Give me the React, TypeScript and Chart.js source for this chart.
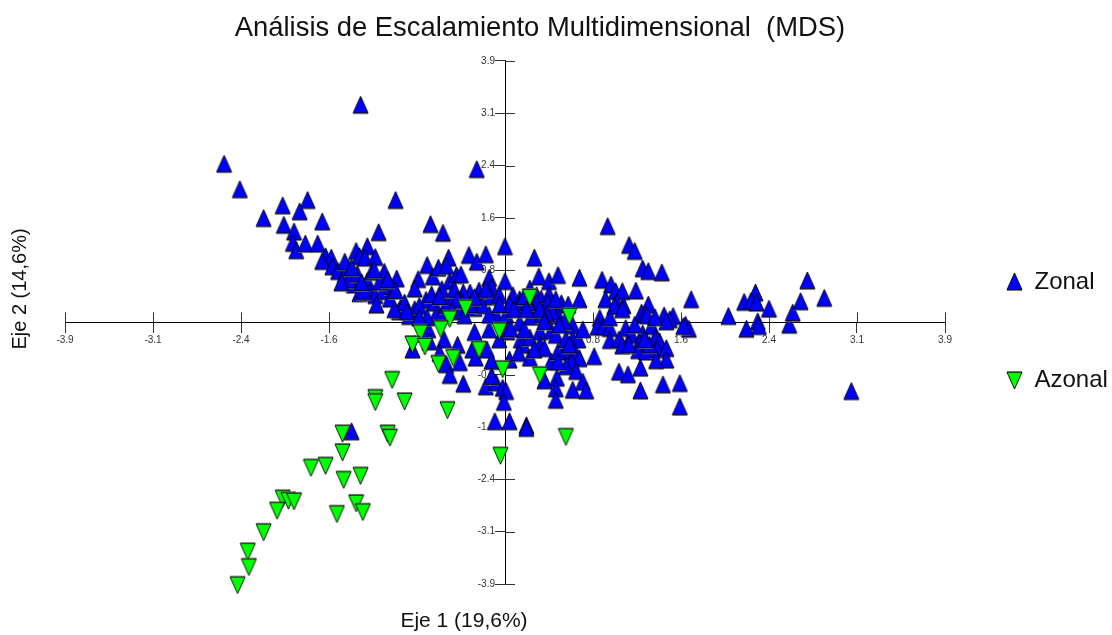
import React, { useEffect, useRef } from "react";
import { Chart, registerables } from "chart.js";

Chart.register(...registerables);

const chartTitle = "Análisis de Escalamiento Multidimensional  (MDS)";
const xAxisTitle = "Eje 1 (19,6%)";
const yAxisTitle = "Eje 2 (14,6%)";
const seriesNames = ["Zonal", "Azonal"];
const tickValues = [-3.9, -3.12, -2.34, -1.56, -0.78, 0.78, 1.56, 2.34, 3.12, 3.9];
const tickLabels = ["-3.9", "-3.1", "-2.4", "-1.6", "-0.8", "0.8", "1.6", "2.4", "3.1", "3.9"];

const zonalX = [
  -1.28, -2.49, -2.35, -1.97, -1.75, -1.82, -2.14, -1.62, -1.96, -1.87, -1.88, -1.85, -1.77, -1.66, -0.97, -0.25, -0.66, -0.55, -1.12,
  -1.22, -1.32, -1.59, -1.54, -1.62, -1.29, -1.24, -1.15, -1.53, -1.48, -1.42, -1.39, -1.34, -1.22, -1.29, -1.20, -1.15, -1.08, -1.14, -1.07,
  -0.96, -1.01, -1.02, -0.92, -0.94, -0.89, -0.80, -0.85, -0.77, -0.80, -0.69, -0.64, -0.59, -0.50, -0.52, -0.49, -0.43, -0.39, -0.32, -0.25,
  -0.17, 0.00, -0.14, -0.12, -0.13, 0.00, -0.23, -0.31, -0.37, -0.47, -0.70, -0.63, -0.76, -0.61, -0.55, -0.42, -0.27, -0.24, -0.20, -0.08,
  0.01, -0.14, 0.02, -0.27, -0.68, -0.54, -0.67, -0.42, -0.29, -0.16, -0.82, -0.58, -0.52, -0.40, -0.26, -0.12, -0.49, -0.37, -0.17, -0.08,
  -0.02, 0.01, -0.01, 0.04, -0.12, -0.09, 0.04, 0.19, 0.19, -1.36, 0.26, 0.30, 0.39, 0.47, 0.66, 0.86, 0.94, 0.98, 1.04, 1.16,
  0.91, 1.10, 1.15, 1.22, 1.27, 1.39, 1.65, 0.66, 0.22, 0.07, 0.13, 0.28, 0.32, 0.39, 0.38, 0.50, 0.56, 0.28, 0.13, 0.25,
  0.47, 0.42, 0.37, 0.13, 0.23, 0.05, 0.31, 0.41, 0.45, 0.60, 0.60, 0.65, 0.14, 0.16, 0.22, 0.12, 0.22, 0.31, 0.35, 0.41,
  0.53, 0.47, 0.62, 0.79, 0.66, 0.59, 0.54, 0.47, 0.63, 0.69, 0.60, 0.72, 0.46, 0.35, 0.45, 0.45, 0.89, 0.99, 1.05, 0.97,
  1.04, 1.27, 1.21, 1.24, 1.26, 1.41, 1.49, 1.46, 1.43, 1.60, 1.63, 1.58, 0.84, 0.82, 0.87, 0.93, 1.07, 1.12, 0.93, 1.01,
  1.04, 1.30, 1.22, 1.19, 1.33, 1.37, 1.18, 1.25, 1.35, 1.43, 1.43, 1.34, 1.20, 1.01, 1.09, 1.20, 1.40, 1.55, 1.55, 1.98,
  2.12, 2.22, 2.18, 2.23, 2.34, 2.24, 2.25, 2.14, 2.52, 2.55, 2.62, 2.68, 2.83, 3.07, -1.38, -1.31, -1.18, -1.45, -1.25, -1.11,
  -0.97, -0.69, -0.52, -0.39, -0.17, -0.05, 0.20, 0.33, 0.53, -0.05,
  0.04, 0.08, 0.17, 0.19, 0.31, 0.45, 0.35, 0.17, 0.48, 0.69, 0.54, 0.26, 0.57,
  -0.98, -0.87, -0.76, -0.65, -0.56, -0.45, -0.42, -0.31, -0.27, -0.05, -0.14, -0.36, -0.47, -0.58,
  -1.42, -1.36, -1.27, -1.16, -1.04, 0.93, 1.33, 1.10, 1.28, 1.15, 1.24,
];
const zonalY = [
  3.24, 2.36, 1.98, 1.74, 1.82, 1.65, 1.55, 1.50, 1.45, 1.35, 1.18, 1.07, 1.17, 1.17, 1.82, 2.28, 1.46, 1.33, 1.34,
  1.13, 1.06, 0.98, 0.96, 0.91, 0.98, 0.96, 0.97, 0.83, 0.76, 0.71, 0.81, 0.56, 0.61, 0.43, 0.44, 0.40, 0.46, 0.26, 0.75,
  0.65, 0.53, 0.35, 0.24, 0.16, 0.29, 0.19, 0.09, 0.64, 0.50, 0.85, 0.68, 0.81, 0.96, 0.84, 0.61, 0.70, 0.71, 1.00, 0.90,
  1.01, 1.13, 0.66, 0.52, 0.38, 0.61, 0.47, 0.44, 0.44, 0.34, 0.33, 0.29, 0.24, 0.11, 0.14, 0.21, 0.21, 0.31, 0.25, 0.11,
  0.11, -0.11, -0.14, -0.15, -0.11, -0.26, -0.29, -0.34, -0.41, -0.41, -0.41, -0.46, -0.63, -0.60, -0.53, -0.58, -0.79, -0.92, -0.96, -0.90,
  -0.98, -1.03, -1.19, -0.56, -0.81, -1.48, -1.48, -1.54, -1.58, -1.63, 0.96, 0.68, 0.61, 0.70, 0.66, 0.63, 0.56, 0.46, 0.46, 0.47,
  1.43, 1.15, 1.06, 0.80, 0.76, 0.74, 0.34, 0.34, 0.50, 0.40, 0.34, 0.40, 0.35, 0.41, 0.29, 0.28, 0.26, 0.28, 0.26, 0.14,
  0.10, 0.15, 0.13, -0.01, 0.08, -0.10, -0.14, -0.13, -0.19, -0.05, -0.25, -0.26, -0.26, -0.34, -0.23, -0.46, -0.53, -0.34, -0.39, -0.59,
  -0.43, -0.44, -0.44, -0.51, -0.54, -0.59, -0.66, -0.59, -0.73, -0.89, -1.01, -1.02, -0.83, -0.87, -0.99, -1.16, 0.34, 0.29, 0.25, 0.24,
  0.19, 0.26, 0.14, 0.11, 0.10, 0.10, 0.09, 0.04, 0.01, -0.04, -0.10, -0.06, 0.06, -0.07, -0.07, -0.09, -0.09, -0.19, -0.27, -0.26,
  -0.35, -0.06, -0.17, -0.31, -0.24, -0.29, -0.42, -0.44, -0.41, -0.39, -0.56, -0.57, -0.68, -0.74, -0.78, -1.02, -0.93, -0.91, -1.26, 0.09,
  0.30, 0.44, 0.31, 0.29, 0.20, 0.01, -0.06, -0.10, -0.04, 0.14, 0.31, 0.62, 0.36, -1.03, 0.63, 0.72, 0.75, 0.59, 0.46, 0.60,
  0.47, 0.07, 0.25, 0.32, 0.49, 0.40, 0.29, 0.11, 0.01, -0.26,
  0.26, 0.19, 0.38, 0.19, 0.19, 0.34, 0.01, -0.11, -0.04, -0.11, -0.26, -0.41, -0.34,
  0.19, 0.16, 0.07, 0.41, 0.49, 0.49, 0.34, 0.26, 0.37, 0.26, 0.11, 0.10, 0.16, 0.38,
  0.90, 0.81, 0.59, 0.78, 0.63, 0.07, 0.07, -0.34, -0.34, -0.04, -0.26,
];
const azonalX = [
  0.22, -0.35, 0.57, -0.49, -0.57, -0.05, -0.75, -0.82, -0.71, -0.23, -0.46, -0.59, -0.02, 0.31, -1.00, -1.15, -1.15, -0.89, -0.51, -1.44,
  -1.04, -1.02, 0.54, -1.44, -0.04, -1.72, -1.59, -1.43, -1.28, -1.97, -1.92, -1.87, -1.32, -1.26, -1.49, -2.02, -2.14, -2.28, -2.27, -2.37,
];
const azonalY = [
  0.38, 0.22, 0.10, 0.06, -0.09, -0.12, -0.15, -0.32, -0.35, -0.40, -0.52, -0.61, -0.69, -0.78, -0.85, -1.12, -1.18, -1.17, -1.30, -1.65,
  -1.65, -1.71, -1.70, -1.93, -1.98, -2.16, -2.13, -2.34, -2.28, -2.62, -2.65, -2.66, -2.69, -2.82, -2.85, -2.80, -3.12, -3.41, -3.64, -3.91,
];

function makeMarker(fill: string, pointsUp: boolean) {
  const w = 17;
  const h = 20;
  const c = document.createElement("canvas");
  c.width = w;
  c.height = h;
  const g = c.getContext("2d") as CanvasRenderingContext2D;
  if (!pointsUp) {
    g.translate(0, h);
    g.scale(1, -1);
  }
  g.strokeStyle = "rgba(120,120,120,0.8)";
  g.lineWidth = 1;
  g.beginPath();
  g.moveTo(1, 18.5);
  g.lineTo(16, 18.5);
  g.stroke();
  g.beginPath();
  g.moveTo(8.5, 1);
  g.lineTo(16, 17.7);
  g.lineTo(1, 17.7);
  g.closePath();
  g.fillStyle = fill;
  g.fill();
  g.strokeStyle = "#000000";
  g.lineWidth = 0.9;
  g.stroke();
  return c;
}

const pairs = (xs: number[], ys: number[]) => xs.map((x, i) => ({ x, y: ys[i] }));

const arrangeBoxes = {
  id: "arrangeBoxes",
  afterLayout(chart: any) {
    const legend = chart.legend;
    legend.left = 932.5;
    legend.right = 1112;
    legend.top = 196;
    legend.bottom = 635;
    const title = chart.titleBlock;
    title.left = 0;
    title.right = 1080;
    const yScale = chart.scales.y;
    yScale.left = 0;
    yScale.right = chart.scales.x.getPixelForValue(0);
  },
};

const axisFurniture = {
  id: "axisFurniture",
  beforeDatasetsDraw(chart: any) {
    const { ctx, scales } = chart;
    const xs = scales.x;
    const ys = scales.y;
    const x0 = xs.getPixelForValue(0);
    const y0 = ys.getPixelForValue(0);
    ctx.save();
    ctx.strokeStyle = "#333333";
    ctx.lineWidth = 1;
    ctx.beginPath();
    for (const v of tickValues) {
      const px = Math.round(xs.getPixelForValue(v)) + 0.5;
      ctx.moveTo(px, y0);
      ctx.lineTo(px, y0 - 10);
      const py = Math.round(ys.getPixelForValue(v)) + 0.5;
      ctx.moveTo(x0, py);
      ctx.lineTo(x0 + 10, py);
    }
    ctx.stroke();
    ctx.restore();
  },
  afterDraw(chart: any) {
    const { ctx } = chart;
    ctx.save();
    ctx.fillStyle = "#111111";
    ctx.textAlign = "center";
    ctx.textBaseline = "middle";
    ctx.font = '21px "Liberation Sans"';
    ctx.fillText(xAxisTitle, 464, 621);
    ctx.font = '20px "Liberation Sans"';
    ctx.translate(20, 289);
    ctx.rotate(-Math.PI / 2);
    ctx.fillText(yAxisTitle, 0, 0);
    ctx.restore();
  },
};

const tickLabel = (_v: unknown, i: number) => tickLabels[i];
const setTicks = (scale: any) => {
  scale.ticks = tickValues.map((value) => ({ value }));
};

export default function App() {
  const ref = useRef<HTMLCanvasElement>(null);
  useEffect(() => {
    document.body.style.margin = "0";
    const upMarker = makeMarker("#0000ff", true);
    const downMarker = makeMarker("#00ff00", false);
    const axis = {
      type: "linear" as const,
      min: -3.9,
      max: 3.9,
      afterBuildTicks: setTicks,
      border: { display: true, color: "#000000", width: 1 },
      grid: { display: true, drawOnChartArea: false, drawTicks: true, tickLength: 10, color: "#333333" },
    };
    const tickFont = { family: "Liberation Sans", size: 10 };
    const chart = new Chart(ref.current as HTMLCanvasElement, {
      type: "scatter",
      data: {
        datasets: [
          {
            label: seriesNames[0],
            data: pairs(zonalX, zonalY),
            pointStyle: upMarker,
            order: 1,
            clip: false,
            backgroundColor: "#0000ff",
            borderColor: "#000000",
          },
          {
            label: seriesNames[1],
            data: pairs(azonalX, azonalY).sort((a, b) => b.y - a.y),
            pointStyle: downMarker,
            order: 0,
            clip: false,
            backgroundColor: "#00ff00",
            borderColor: "#000000",
          },
        ],
      } as any,
      options: {
        animation: false,
        responsive: false,
        layout: { padding: { left: 65, right: 0, top: 0, bottom: 51 } },
        scales: {
          x: {
            ...axis,
            position: { y: 0 },
            ticks: { autoSkip: false, maxRotation: 0, padding: 2, color: "#333333", font: tickFont, callback: tickLabel },
          },
          y: {
            ...axis,
            position: "left",
            afterFit: (s: any) => {
              s.width = 0;
            },
            ticks: { autoSkip: false, padding: 0, color: "#333333", font: tickFont, callback: tickLabel },
          },
        } as any,
        plugins: {
          title: {
            display: true,
            text: chartTitle,
            color: "#111111",
            font: { family: "Liberation Sans", size: 27.4, weight: "normal", lineHeight: 1.2 },
            padding: { top: 12, bottom: 16.1 },
          },
          legend: {
            display: true,
            position: "right",
            align: "start",
            maxWidth: 167,
            labels: {
              usePointStyle: true,
              boxWidth: 16,
              padding: 74,
              color: "#111111",
              font: { family: "Liberation Sans", size: 24 },
              sort: (a: any, b: any) => a.datasetIndex - b.datasetIndex,
            },
          },
          tooltip: { enabled: false },
        },
      } as any,
      plugins: [arrangeBoxes, axisFurniture],
    });
    return () => chart.destroy();
  }, []);
  return <canvas ref={ref} width={1112} height={635} style={{ display: "block" }} />;
}
